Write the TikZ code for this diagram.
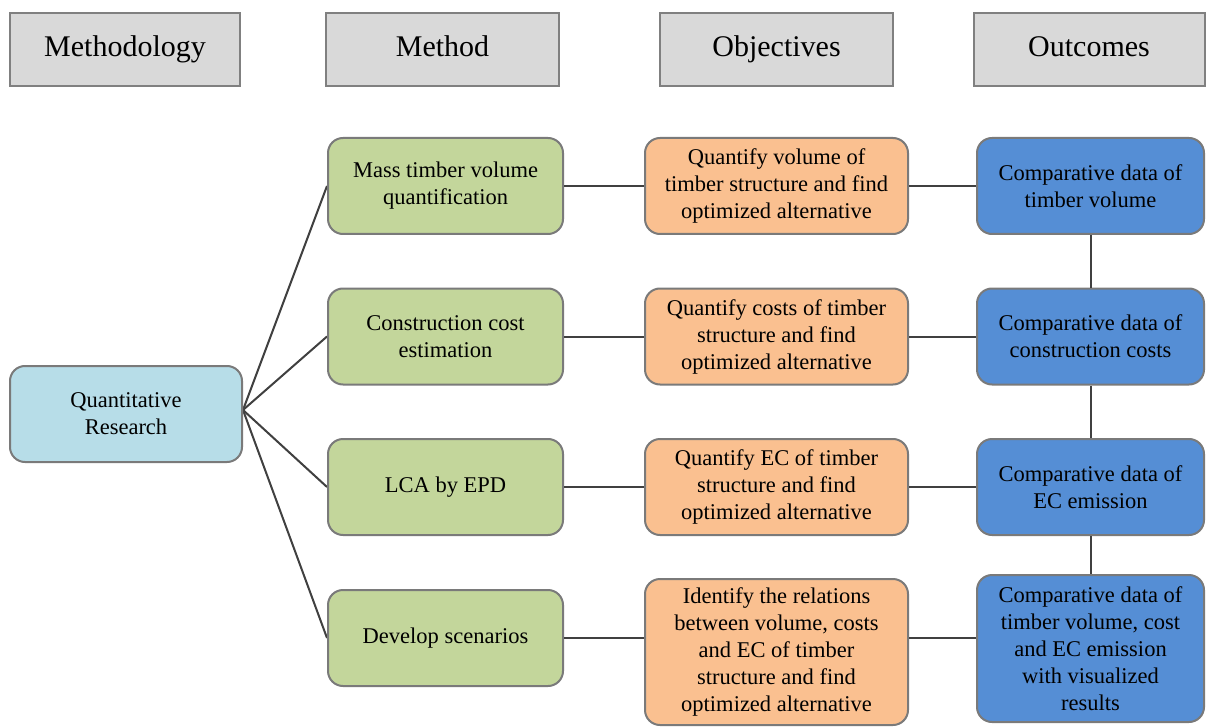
\documentclass[tikz,border=0pt]{standalone}
\usepackage{fontspec}
\setmainfont{Liberation Serif}
\newfontfamily\tnr{Liberation Serif}
\usetikzlibrary{backgrounds}
\definecolor{hdrfill}{HTML}{D9D9D9}
\definecolor{hdrdraw}{HTML}{808080}
\definecolor{qrfill}{HTML}{B7DDE8}
\definecolor{grfill}{HTML}{C3D69B}
\definecolor{orfill}{HTML}{FAC090}
\definecolor{blfill}{HTML}{558ED5}
\definecolor{boxdraw}{HTML}{7A7A7A}
\definecolor{linecol}{HTML}{404040}
\tikzset{
  hdr/.style={draw=hdrdraw, fill=hdrfill, line width=2pt, minimum width=#1, minimum height=73pt, inner sep=0pt, text height=21pt, text depth=7pt, font=\tnr\fontsize{30}{36}\selectfont},
  rbox/.style={draw=boxdraw, line width=2pt, rounded corners=15pt, align=center, inner sep=0pt, font=\tnr\fontsize{22.5}{27}\selectfont},
  qr/.style={rbox, fill=qrfill, minimum width=232pt, minimum height=96pt},
  gr/.style={rbox, fill=grfill, minimum width=235pt, minimum height=96pt},
  orb/.style={rbox, fill=orfill, minimum width=263pt, minimum height=96pt},
  bl/.style={rbox, fill=blfill, minimum width=227pt, minimum height=96pt},
  conn/.style={draw=linecol, line width=2pt}
}
\begin{document}
\begin{tikzpicture}[x=1pt,y=-1pt]
\useasboundingbox (0,0) rectangle (1206,727);
% headers
\node[hdr=230pt] (h1) at (125,49.5) {Methodology};
\node[hdr=233pt] (h2) at (442.5,49.5) {Method};
\node[hdr=233pt] (h3) at (776.5,49.5) {Objectives};
\node[hdr=231pt] (h4) at (1089,49.5) {Outcomes};
% quantitative research
\node[qr] (qr) at (126,414) {Quantitative\\Research};
% method
\node[gr] (g1) at (445.5,186) {Mass timber volume\\quantification};
\node[gr] (g2) at (445.5,336.5) {Construction cost\\estimation};
\node[gr] (g3) at (445.5,487) {LCA by EPD};
\node[gr] (g4) at (445.5,638) {Develop scenarios};
% objectives
\node[orb] (o1) at (776.5,186) {Quantify volume of\\timber structure and find\\optimized alternative};
\node[orb] (o2) at (776.5,336.5) {Quantify costs of timber\\structure and find\\optimized alternative};
\node[orb] (o3) at (776.5,487) {Quantify EC of timber\\structure and find\\optimized alternative};
\node[orb, minimum height=146pt] (o4) at (776.5,652) {Identify the relations\\between volume, costs\\and EC of timber\\structure and find\\optimized alternative};
% outcomes
\node[bl] (b1) at (1090.5,186) {Comparative data of\\timber volume};
\node[bl] (b2) at (1090.5,336.5) {Comparative data of\\construction costs};
\node[bl] (b3) at (1090.5,487) {Comparative data of\\EC emission};
\node[bl, minimum height=147pt] (b4) at (1090.5,648.5) {Comparative data of\\timber volume, cost\\and EC emission\\with visualized\\results};
% connectors
\begin{scope}[on background layer]
\foreach \g in {g1,g2,g3,g4} \draw[conn] ([yshift=4pt]qr.east) -- (\g.west);
\end{scope}
\draw[conn] (g1.east) -- (o1.west);
\draw[conn] (g2.east) -- (o2.west);
\draw[conn] (g3.east) -- (o3.west);
\draw[conn] (g4.east) -- (g4.east -| o4.west);
\draw[conn] (o1.east) -- (b1.west);
\draw[conn] (o2.east) -- (b2.west);
\draw[conn] (o3.east) -- (b3.west);
\draw[conn] (g4.east -| o4.east) -- (g4.east -| b4.west);
\draw[conn] (b1.south) -- (b2.north);
\draw[conn] (b2.south) -- (b3.north);
\draw[conn] (b3.south) -- (b4.north);
\end{tikzpicture}
\end{document}
